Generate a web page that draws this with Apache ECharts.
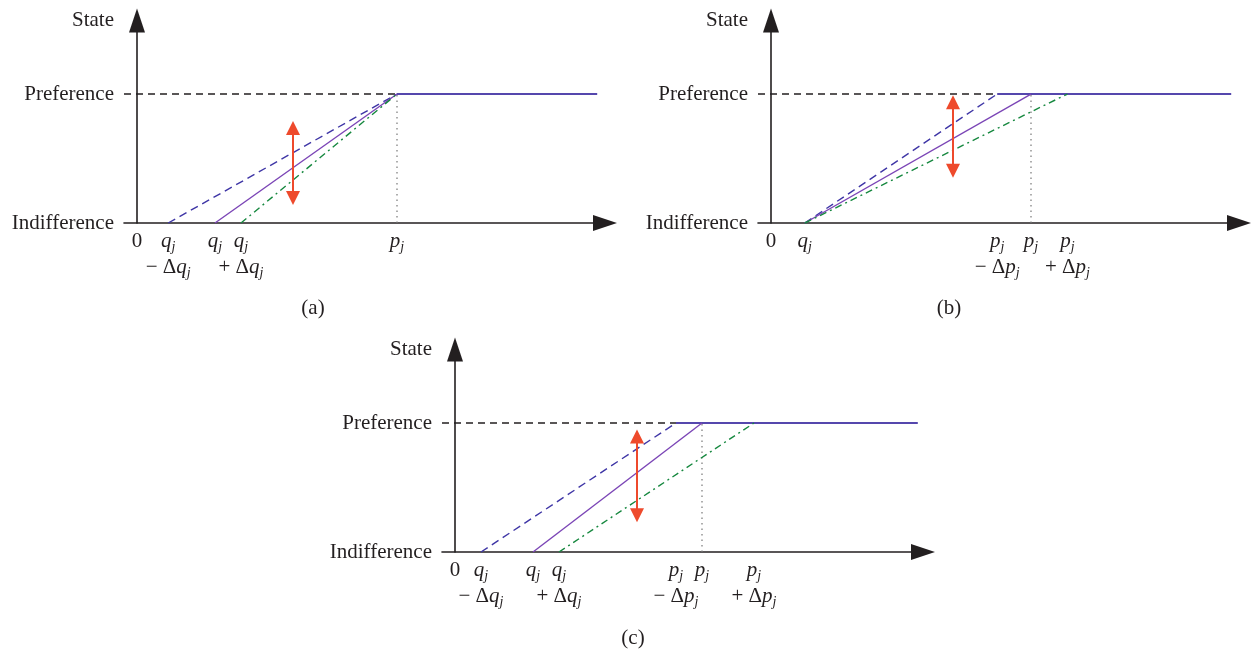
<!DOCTYPE html>
<html>
<head>
<meta charset="utf-8">
<script src="https://cdn.jsdelivr.net/npm/echarts@6/dist/echarts.min.js"></script>
<style>html,body{margin:0;padding:0;background:#fff}#c{width:1254px;height:654px}</style>
</head>
<body>
<div id="c"></div>
<script>
// ---- data (x positions in abstract units, y: 0 = Indifference, 1 = Preference)
const panelNames = ['(a)', '(b)', '(c)'];
// threshold starts (q) and ends (p) for the three curves: [lower(blue dashed), nominal(purple), upper(green dash-dot)]
const qA = [1.2, 3.0, 4.0];
const pA = [10, 10, 10];
const qB = [1.3, 1.3, 1.3];
const pB = [8.7, 10, 11.4];
const qC = [1.0, 3.0, 4.0];
const pC = [8.5, 9.5, 11.5];
const plateauEnd = [17.7, 17.7, 17.8];
// red double arrow: [x, yTop, yBottom]
const arrowA = [6.0, 0.79, 0.14];
const arrowB = [7.0, 0.99, 0.35];
const arrowC = [7.0, 0.95, 0.23];
// tick values and tick label keys
const originTick = [0];
const ticksA = [1.2, 3.0, 4.0, 10];
const labelsA = ['q-', 'q', 'q+', 'p'];
const ticksB = [1.3, 8.7, 10, 11.4];
const labelsB = ['q', 'p-', 'p', 'p+'];
const ticksC = [1.0, 3.0, 4.0, 8.5, 9.5, 11.5];
const labelsC = ['q-', 'q', 'q+', 'p-', 'p', 'p+'];
const yTicks = [0, 1];
const yLabels = ['Indifference', 'Preference'];
const yName = 'State';

const SERIF = '"Liberation Serif", "DejaVu Serif", serif';
const FS = 21;
const richFmt = {
  'q': '{i|q}{s|j}',
  'p': '{i|p}{s|j}',
  'q-': '{i|q}{s|j}\n{n|− Δ}{i|q}{s|j}',
  'q+': '{i|q}{s|j}\n{n|+ Δ}{i|q}{s|j}',
  'p-': '{i|p}{s|j}\n{n|− Δ}{i|p}{s|j}',
  'p+': '{i|p}{s|j}\n{n|+ Δ}{i|p}{s|j}'
};
const rich = {
  n: {fontFamily: SERIF, fontSize: FS, lineHeight: 26, color: '#231f20'},
  i: {fontFamily: SERIF, fontSize: FS, fontStyle: 'italic', lineHeight: 26, color: '#231f20'},
  s: {fontFamily: SERIF, fontSize: 14, fontStyle: 'italic', lineHeight: 14, verticalAlign: 'bottom', color: '#231f20'}
};

const AX = '#231f20';
const layouts = [
  {left: 124, top: 20.5},
  {left: 758, top: 20.5},
  {left: 442, top: 349.5}
];
const XMIN = -0.5, XMAX = 18, YMAX = 1.57;
const panels = [
  {q: qA, p: pA, arrow: arrowA, ticks: ticksA, labels: labelsA},
  {q: qB, p: pB, arrow: arrowB, ticks: ticksB, labels: labelsB},
  {q: qC, p: pC, arrow: arrowC, ticks: ticksC, labels: labelsC}
];

const grid = [], xAxis = [], yAxis = [], series = [];
panels.forEach((P, k) => {
  grid.push({left: layouts[k].left, top: layouts[k].top, width: 481, height: 202.5, containLabel: false});
  xAxis.push({
    type: 'value', gridIndex: k, min: XMIN, max: XMAX, position: 'bottom',
    splitLine: {show: false}, axisTick: {show: false},
    axisLine: {onZero: false, symbol: ['none', 'triangle'], symbolSize: [16, 24], lineStyle: {color: AX, width: 1.6}},
    axisLabel: {
      customValues: P.ticks, margin: 5, color: '#231f20', fontFamily: SERIF, fontSize: FS,
      formatter: (v) => { const idx = P.ticks.indexOf(v); return richFmt[P.labels[idx]] || ''; },
      rich: rich, hideOverlap: false
    }
  });
  // separate axis carrying only the origin "0" label
  xAxis.push({
    type: 'value', gridIndex: k, min: XMIN, max: XMAX, position: 'bottom', offset: 0,
    splitLine: {show: false}, axisTick: {show: false}, axisLine: {show: false, onZero: false},
    axisLabel: {customValues: originTick, margin: 5, formatter: '{n|{value}}', rich: rich}
  });
  yAxis.push({
    type: 'value', gridIndex: k, min: 0, max: YMAX,
    splitLine: {show: false}, axisTick: {show: false},
    axisLine: {onZero: true, onZeroAxisIndex: 2 * k, symbol: ['none', 'triangle'], symbolSize: [16, 24], lineStyle: {color: AX, width: 1.6}},
    axisLabel: {
      customValues: yTicks, margin: 10, color: '#231f20', fontFamily: SERIF, fontSize: FS,
      formatter: (v) => yLabels[yTicks.indexOf(v)] || ''
    },
    name: yName, nameLocation: 'end', nameGap: 0,
    nameTextStyle: {fontFamily: SERIF, fontSize: FS, color: '#231f20', align: 'right', verticalAlign: 'middle', padding: [0, 23, 0, 0]}
  });
  const pMin = Math.min(...P.p);
  const base = {type: 'line', xAxisIndex: 2 * k, yAxisIndex: k, symbol: 'none', silent: true, animation: false};
  // preference reference dashed line
  series.push(Object.assign({}, base, {data: [[XMIN, 1], [pMin, 1]], lineStyle: {color: '#231f20', width: 1.4, type: [7, 5]}, z: 2}));
  // dotted vertical at nominal p
  series.push(Object.assign({}, base, {data: [[P.p[1], 0], [P.p[1], 1]], lineStyle: {color: '#777', width: 1.2, type: [1.5, 4]}, z: 2}));
  // plateau
  series.push(Object.assign({}, base, {data: [[pMin, 1], [plateauEnd[k], 1]], lineStyle: {color: '#5547ad', width: 1.8}, z: 3}));
  // lower (blue dashed)
  series.push(Object.assign({}, base, {data: [[P.q[0], 0], [P.p[0], 1]], lineStyle: {color: '#3f36a6', width: 1.4, type: [8, 5]}, z: 4}));
  // nominal (purple solid)
  series.push(Object.assign({}, base, {data: [[P.q[1], 0], [P.p[1], 1]], lineStyle: {color: '#7b45b6', width: 1.4}, z: 4}));
  // upper (green dash-dot)
  series.push(Object.assign({}, base, {data: [[P.q[2], 0], [P.p[2], 1]], lineStyle: {color: '#16883f', width: 1.4, type: [7, 4, 2, 4]}, z: 4}));
  // red double arrow
  series.push({
    type: 'custom', xAxisIndex: 2 * k, yAxisIndex: k, silent: true, animation: false, z: 6,
    data: [P.arrow],
    renderItem: (params, api) => {
      const a = api.coord([api.value(0), api.value(1)]);
      const b = api.coord([api.value(0), api.value(2)]);
      const hw = 7, hh = 14;
      const col = '#ee4a2c';
      return {type: 'group', children: [
        {type: 'line', shape: {x1: a[0], y1: a[1] + hh - 1, x2: b[0], y2: b[1] - hh + 1}, style: {stroke: col, lineWidth: 2}},
        {type: 'polygon', shape: {points: [[a[0], a[1]], [a[0] - hw, a[1] + hh], [a[0] + hw, a[1] + hh]]}, style: {fill: col}},
        {type: 'polygon', shape: {points: [[b[0], b[1]], [b[0] - hw, b[1] - hh], [b[0] + hw, b[1] - hh]]}, style: {fill: col}}
      ]};
    }
  });
});

const chart = echarts.init(document.getElementById('c'), null, {renderer: 'canvas'});
chart.setOption({
  backgroundColor: '#fff',
  animation: false,
  grid, xAxis, yAxis, series,
  graphic: [
    {type: 'text', x: 313, y: 308, style: {text: panelNames[0], font: FS + 'px ' + SERIF, fill: '#231f20', align: 'center', verticalAlign: 'middle'}},
    {type: 'text', x: 949, y: 308, style: {text: panelNames[1], font: FS + 'px ' + SERIF, fill: '#231f20', align: 'center', verticalAlign: 'middle'}},
    {type: 'text', x: 633, y: 638, style: {text: panelNames[2], font: FS + 'px ' + SERIF, fill: '#231f20', align: 'center', verticalAlign: 'middle'}}
  ]
});
</script>
</body>
</html>
